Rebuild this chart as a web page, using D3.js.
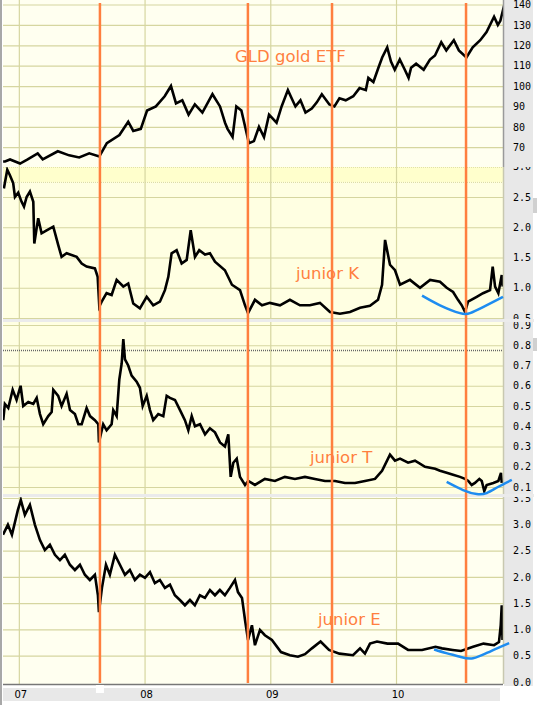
<!DOCTYPE html>
<html><head><meta charset="utf-8">
<script src="https://cdn.jsdelivr.net/npm/d3@7"></script>
<style>body{margin:0;background:#fff}svg{display:block}</style>
</head><body>
<svg id="chart" width="537" height="705"></svg>
<script>
// ---------- DATA (time in decimal years) ----------
const yearTicks = [2007, 2008, 2009, 2010];
const yearLabels = ["07", "08", "09", "10"];

const gldTicks = [70, 80, 90, 100, 110, 120, 130, 140];
const gldT = [2006.875,2006.89,2006.93,2007.01,2007.07,2007.15,2007.19,2007.31,2007.40,2007.48,2007.56,2007.64,2007.70,2007.80,2007.87,2007.91,2007.97,2008.02,2008.09,2008.16,2008.21,2008.25,2008.30,2008.35,2008.40,2008.46,2008.54,2008.60,2008.64,2008.66,2008.70,2008.73,2008.77,2008.80,2008.83,2008.87,2008.91,2008.95,2008.99,2009.05,2009.09,2009.14,2009.20,2009.24,2009.28,2009.33,2009.37,2009.41,2009.47,2009.51,2009.55,2009.60,2009.66,2009.71,2009.76,2009.78,2009.82,2009.86,2009.89,2009.93,2009.96,2009.99,2010.03,2010.07,2010.10,2010.12,2010.16,2010.22,2010.27,2010.31,2010.36,2010.40,2010.46,2010.50,2010.56,2010.61,2010.67,2010.72,2010.78,2010.81,2010.83,2010.86];
const gldV = [63,63,64,62,64,67,64,68,66,65,67,65.5,72,76,82.5,78,79,88,90,95,100,91.5,93,86,91,87,96,90,82,79,75,90,88,80,72,73,80,75,86,82,90,98,90,93,87,89,92,96,91,90,94,93,95,99,98,104,102,109,114,119,112,108,113,108,104,109,111,108,113,115,121.5,117.5,122.5,117.5,114,119,122.5,126.5,134,130,132,139.5];

const kTicks = [0.5, 1.0, 1.5, 2.0, 2.5, 3.0];
const kT = [2006.881,2006.908,2006.929,2006.955,2006.969,2006.995,2007.022,2007.041,2007.062,2007.088,2007.115,2007.123,2007.154,2007.181,2007.221,2007.274,2007.313,2007.340,2007.380,2007.460,2007.500,2007.539,2007.605,2007.627,2007.640,2007.659,2007.698,2007.738,2007.778,2007.831,2007.870,2007.910,2007.963,2008.017,2008.069,2008.122,2008.162,2008.189,2008.215,2008.255,2008.295,2008.335,2008.367,2008.401,2008.435,2008.481,2008.520,2008.560,2008.639,2008.695,2008.759,2008.799,2008.823,2008.878,2008.934,2008.997,2009.077,2009.156,2009.236,2009.315,2009.395,2009.475,2009.554,2009.634,2009.714,2009.793,2009.857,2009.889,2009.913,2009.952,2009.992,2010.032,2010.111,2010.191,2010.271,2010.350,2010.403,2010.454,2010.493,2010.523,2010.549,2010.573,2010.642,2010.692,2010.748,2010.769,2010.788,2010.814,2010.841,2010.849];
const kV = [2.64,2.95,2.86,2.73,2.50,2.57,2.42,2.34,2.50,2.59,2.42,1.73,2.15,1.90,1.95,2.01,1.71,1.51,1.57,1.51,1.40,1.35,1.32,1.18,0.69,0.77,0.91,0.88,1.13,1.02,1.07,0.74,0.66,0.85,0.71,0.77,0.96,1.18,1.57,1.62,1.40,1.46,1.95,1.51,1.62,1.55,1.57,1.43,1.29,1.05,0.96,0.71,0.58,0.80,0.71,0.75,0.71,0.80,0.71,0.71,0.75,0.60,0.57,0.60,0.67,0.70,0.80,1.05,1.79,1.38,1.29,1.05,1.13,1.00,1.13,1.10,1.00,0.93,0.80,0.71,0.60,0.77,0.85,0.91,0.96,1.35,1.02,0.91,1.21,1.02];
const kBlueT = [2010.207, 2010.350, 2010.509, 2010.589, 2010.692, 2010.851];
const kBlueV = [0.87, 0.71, 0.58, 0.58, 0.68, 0.85];

const tTicks = [0.1, 0.2, 0.3, 0.4, 0.5, 0.6, 0.7, 0.8, 0.9];
const tT = [2006.876,2006.889,2006.916,2006.951,2006.982,2007.014,2007.035,2007.075,2007.115,2007.142,2007.168,2007.194,2007.234,2007.261,2007.274,2007.313,2007.340,2007.380,2007.407,2007.446,2007.473,2007.500,2007.539,2007.566,2007.605,2007.632,2007.637,2007.671,2007.698,2007.738,2007.751,2007.778,2007.799,2007.818,2007.831,2007.844,2007.870,2007.897,2007.937,2007.963,2007.985,2008.017,2008.043,2008.069,2008.109,2008.149,2008.176,2008.202,2008.242,2008.282,2008.321,2008.348,2008.375,2008.401,2008.441,2008.481,2008.520,2008.560,2008.600,2008.639,2008.666,2008.685,2008.706,2008.733,2008.759,2008.799,2008.825,2008.878,2008.957,2009.037,2009.116,2009.196,2009.276,2009.355,2009.435,2009.515,2009.594,2009.674,2009.753,2009.833,2009.889,2009.952,2009.992,2010.032,2010.096,2010.151,2010.231,2010.311,2010.350,2010.403,2010.454,2010.509,2010.549,2010.575,2010.602,2010.628,2010.663,2010.682,2010.702,2010.721,2010.774,2010.814,2010.835,2010.841];
const tV = [0.43,0.51,0.49,0.58,0.53,0.60,0.50,0.52,0.51,0.54,0.46,0.41,0.45,0.47,0.58,0.55,0.50,0.56,0.48,0.46,0.41,0.41,0.49,0.45,0.43,0.41,0.32,0.41,0.38,0.41,0.48,0.45,0.63,0.71,0.83,0.73,0.70,0.65,0.62,0.59,0.50,0.55,0.48,0.43,0.46,0.45,0.55,0.54,0.53,0.48,0.43,0.38,0.45,0.40,0.41,0.36,0.39,0.37,0.32,0.30,0.36,0.15,0.22,0.24,0.15,0.11,0.13,0.11,0.14,0.13,0.15,0.14,0.15,0.14,0.13,0.13,0.12,0.12,0.13,0.14,0.18,0.26,0.23,0.24,0.22,0.23,0.20,0.19,0.18,0.17,0.16,0.15,0.14,0.13,0.11,0.12,0.14,0.13,0.08,0.11,0.12,0.13,0.17,0.12];
const tBlueT = [2010.403, 2010.533, 2010.642, 2010.721, 2010.811, 2010.921];
const tBlueV = [0.125, 0.085, 0.065, 0.07, 0.10, 0.135];

const eTicks = [0.0, 0.5, 1.0, 1.5, 2.0, 2.5, 3.0, 3.5];
const eT = [2006.874,2006.913,2006.945,2006.992,2007.016,2007.048,2007.088,2007.128,2007.168,2007.207,2007.247,2007.287,2007.327,2007.366,2007.406,2007.446,2007.486,2007.525,2007.565,2007.605,2007.629,2007.637,2007.661,2007.693,2007.724,2007.764,2007.804,2007.844,2007.883,2007.923,2007.963,2008.003,2008.043,2008.082,2008.122,2008.162,2008.202,2008.241,2008.281,2008.321,2008.361,2008.400,2008.440,2008.480,2008.520,2008.560,2008.599,2008.639,2008.679,2008.719,2008.743,2008.775,2008.799,2008.823,2008.854,2008.878,2008.918,2008.957,2009.013,2009.085,2009.156,2009.220,2009.276,2009.331,2009.400,2009.467,2009.550,2009.658,2009.714,2009.753,2009.793,2009.849,2009.932,2010.016,2010.096,2010.207,2010.314,2010.366,2010.451,2010.517,2010.613,2010.696,2010.780,2010.819,2010.833,2010.841,2010.847];
const eV = [2.80,2.99,2.80,3.27,3.46,3.18,3.37,2.99,2.70,2.51,2.61,2.42,2.32,2.42,2.23,2.13,2.23,2.04,1.94,2.04,1.65,1.33,1.79,2.23,2.04,2.42,2.23,2.04,2.13,1.94,2.04,1.98,2.09,1.88,1.94,1.79,1.85,1.65,1.56,1.46,1.56,1.46,1.65,1.60,1.75,1.65,1.75,1.65,1.79,1.94,1.71,1.60,1.18,0.80,1.08,0.70,0.99,0.89,0.80,0.57,0.51,0.48,0.53,0.64,0.77,0.61,0.54,0.51,0.64,0.54,0.73,0.77,0.73,0.73,0.61,0.61,0.67,0.64,0.61,0.59,0.67,0.73,0.70,0.76,1.08,1.46,0.80];
const eBlueT = [2010.303, 2010.400, 2010.509, 2010.613, 2010.748, 2010.900];
const eBlueV = [0.62, 0.55, 0.48, 0.45, 0.58, 0.74];

const eventDates = [2007.645, 2008.822, 2009.491, 2010.557];
const titles = ["GLD gold ETF", "junior K", "junior T", "junior E"];

// ---------- LAYOUT ----------
const svg = d3.select("#chart");
const X0 = 3, X1 = 503;
const x = d3.scaleLinear().domain([2006.874, 2010.851]).range([X0, X1]);

const ORANGE = "#ff7f3f", BLUE = "#1e8cf0", GRID = "#d6d6a0";

const panels = [
  {top: 0, bottom: 167, y: d3.scaleLinear().domain([60, 140]).range([167.6, 4.5]), ticks: gldTicks, grid: [60].concat(gldTicks), fmt: d3.format("d"), t: gldT, v: gldV, bg: "#fffff0", title: titles[0], tx: 235, ty: 62},
  {top: 167, bottom: 319, y: d3.scaleLinear().domain([0.5, 2.5]).range([318, 197]), ticks: kTicks, grid: kTicks.slice(0,5), fmt: d3.format(".1f"), t: kT, v: kV, bt: kBlueT, bv: kBlueV, bg: "#ffffe2", title: titles[1], tx: 296, ty: 279, clipLabels: true},
  {top: 322, bottom: 494, y: d3.scaleLinear().domain([0.1, 0.9]).range([487, 325]), ticks: tTicks, grid: tTicks, fmt: d3.format(".1f"), t: tT, v: tV, bt: tBlueT, bv: tBlueV, bg: "#ffffe2", title: titles[2], tx: 310, ty: 463},
  {top: 497, bottom: 684, y: d3.scaleLinear().domain([0, 3.5]).range([682, 498]), ticks: eTicks, grid: eTicks.slice(1), fmt: d3.format(".1f"), t: eT, v: eV, bt: eBlueT, bv: eBlueV, bg: "#fffff0", title: titles[3], tx: 318, ty: 625}
];

// right axis column and bottom band
svg.append("rect").attr("x", 504).attr("y", 0).attr("width", 29).attr("height", 686).attr("fill", "#e8e8e8");
svg.append("rect").attr("x", 533).attr("y", 198).attr("width", 4).attr("height", 15).attr("fill", "#d0d0d0");
svg.append("rect").attr("x", 533).attr("y", 338).attr("width", 4).attr("height", 13).attr("fill", "#d0d0d0");
svg.append("rect").attr("x", X0).attr("y", 688).attr("width", 497).attr("height", 13).attr("fill", "#e8e8e8");

const defs = svg.append("defs");

panels.forEach((p, i) => {
  const h = p.bottom - p.top;
  const cid = "clip" + i;
  defs.append("clipPath").attr("id", cid).append("rect").attr("x", X0).attr("y", p.top).attr("width", X1 - X0).attr("height", h);
  const g = svg.append("g");
  g.append("rect").attr("x", X0).attr("y", p.top).attr("width", X1 - X0).attr("height", h).attr("fill", p.bg);

  const inner = g.append("g").attr("clip-path", `url(#${cid})`);
  if (i === 1) {
    inner.append("rect").attr("x", X0).attr("y", p.y(3.0)).attr("width", X1 - X0).attr("height", p.y(2.75) - p.y(3.0)).attr("fill", "#ffffcc");
    [3.0, 2.75].forEach(v => inner.append("line").attr("x1", X0).attr("x2", X1).attr("y1", p.y(v) + 0.5).attr("y2", p.y(v) + 0.5)
      .attr("stroke", "#d8d8a0").attr("stroke-dasharray", "1,1"));
  }
  // horizontal grid
  inner.append("g").attr("transform", `translate(${X0},0)`)
    .call(d3.axisLeft(p.y).tickValues(p.grid).tickSize(-(X1 - X0)).tickFormat(""))
    .call(s => { s.select(".domain").remove(); s.selectAll("line").attr("stroke", GRID).attr("stroke-width", 1.2); });
  // vertical grid
  inner.append("g").attr("transform", `translate(0,${p.bottom})`)
    .call(d3.axisBottom(x).tickValues(yearTicks).tickSize(-h).tickFormat(""))
    .call(s => { s.select(".domain").remove(); s.selectAll("line").attr("stroke", GRID).attr("stroke-width", 1.2); });
  if (i === 2) {
    inner.append("line").attr("x1", X0).attr("x2", X1).attr("y1", 350.5).attr("y2", 350.5)
      .attr("stroke", "#666").attr("stroke-width", 1.5).attr("stroke-dasharray", "1,1");
  }
  // series
  const data = p.t.map((t, k) => [t, p.v[k]]);
  inner.append("path").datum(data)
    .attr("d", d3.line().x(d => x(d[0])).y(d => p.y(d[1])))
    .attr("fill", "none").attr("stroke", "#000").attr("stroke-width", 2.6).attr("stroke-linejoin", "miter");
  // right border
  g.append("line").attr("x1", X1 + 0.5).attr("x2", X1 + 0.5).attr("y1", p.top).attr("y2", p.bottom)
    .attr("stroke", i === 0 ? "#9a9a9a" : "#c8c8b0").attr("stroke-width", 1.5);

  // labels
  const lab = svg.append("g").attr("transform", `translate(${X1 + 6},0)`);
  if (p.clipLabels) {
    defs.append("clipPath").attr("id", "lclip" + i).append("rect").attr("x", -10).attr("y", p.top).attr("width", 40).attr("height", p.bottom - p.top);
    lab.attr("clip-path", `url(#lclip${i})`);
  }
  lab.call(d3.axisRight(p.y).tickValues(p.ticks).tickSize(0).tickPadding(4).tickFormat(p.fmt))
    .call(s => { s.select(".domain").remove(); s.selectAll("text").attr("font-family", "DejaVu Sans Mono").attr("font-size", 10).attr("fill", "#000"); });
});

// separators
svg.append("rect").attr("x", X0).attr("y", 319).attr("width", 534 - X0).attr("height", 3).attr("fill", "#ebebeb");
svg.append("rect").attr("x", X0).attr("y", 494).attr("width", 534 - X0).attr("height", 3).attr("fill", "#ebebeb");

// event lines
svg.append("g").selectAll("line").data(eventDates).join("line")
  .attr("x1", d => x(d)).attr("x2", d => x(d)).attr("y1", 3).attr("y2", 683)
  .attr("stroke", ORANGE).attr("stroke-width", 2.5);

// blue arcs
panels.forEach(p => {
  if (!p.bt) return;
  const data = p.bt.map((t, k) => [t, p.bv[k]]);
  svg.append("path").datum(data)
    .attr("d", d3.line().curve(d3.curveNatural).x(d => x(d[0])).y(d => p.y(d[1])))
    .attr("fill", "none").attr("stroke", BLUE).attr("stroke-width", 2.5);
});

// titles
panels.forEach(p => {
  svg.append("text").attr("x", p.tx).attr("y", p.ty).text(p.title)
    .attr("font-family", "DejaVu Sans").attr("font-size", 16.5).attr("fill", ORANGE);
});

// x axis
svg.append("line").attr("x1", X0).attr("x2", X1).attr("y1", 684.5).attr("y2", 684.5).attr("stroke", "#777").attr("stroke-width", 1.5);
svg.append("g").attr("transform", "translate(1.5,686)")
  .call(d3.axisBottom(x).tickValues(yearTicks).tickSize(0).tickPadding(5).tickFormat((d, i) => yearLabels[i]))
  .call(s => { s.select(".domain").remove(); s.selectAll("text").attr("font-family", "DejaVu Sans").attr("font-size", 10).attr("fill", "#000"); });
svg.append("rect").attr("x", x(eventDates[0]) - 4).attr("y", 685).attr("width", 8).attr("height", 8).attr("fill", "#fff");

// left border
svg.append("rect").attr("x", 0).attr("y", 0).attr("width", 2).attr("height", 705).attr("fill", "#a8a8a8");
</script>
</body></html>
